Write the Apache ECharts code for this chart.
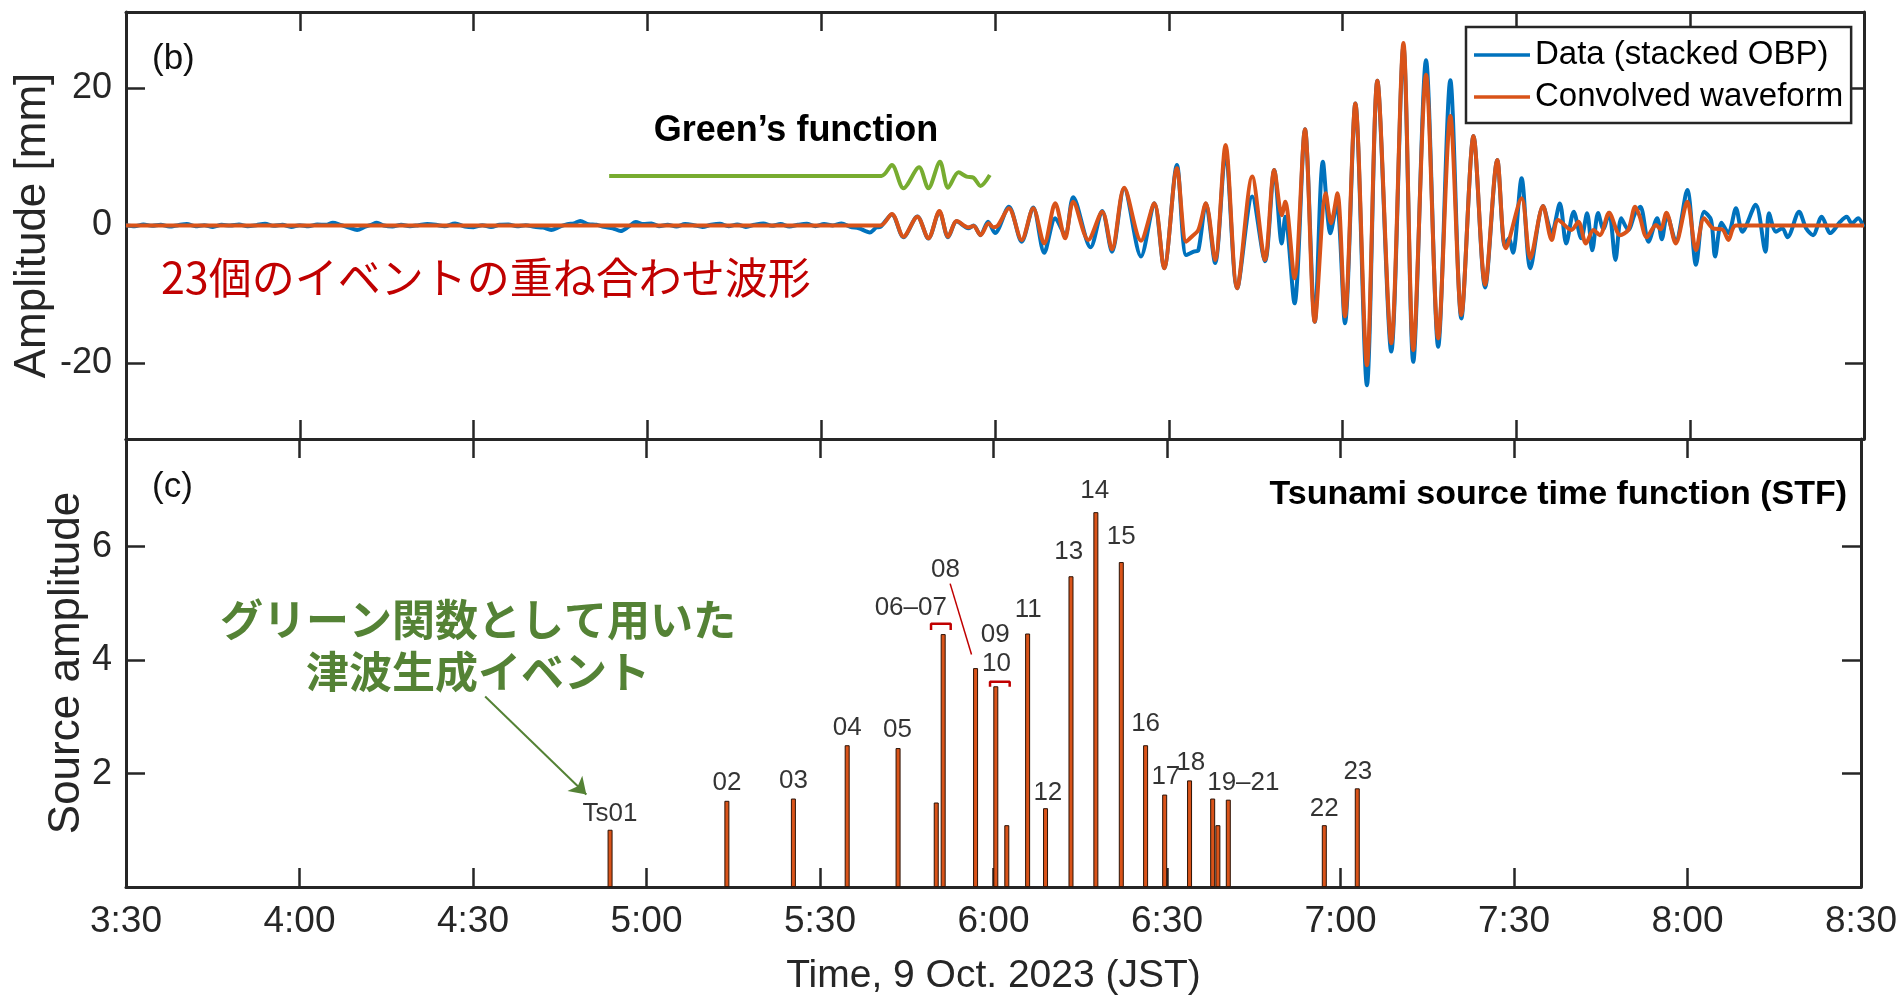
<!DOCTYPE html>
<html><head><meta charset="utf-8">
<script src="https://cdn.jsdelivr.net/npm/echarts@6/dist/echarts.min.js"></script>
<style>html,body{margin:0;padding:0;background:#fff}#c{width:1900px;height:999px}</style>
</head><body><div id="c"></div>
<script>
// ---- axes (minutes of day: 210 = 3:30, 510 = 8:30) ----
const timeMin = 210;
const timeMax = 510;
const timeStep = 30;
const ampMin = -31, ampMax = 31;
const ampTicks = [-20, 0, 20];
const srcMin = 0, srcMax = 7.9;
const srcTicks = [2, 4, 6];

// ---- (c) tsunami source time function ----
const eventNames = ['Ts01','02','03','04','05','06','07','08','09','10','11','12','13','14','15','16','17','18','19','20','21','22','23'];
const eventTimes = [293.7,313.9,325.4,334.7,343.5,350.1,351.3,356.9,360.4,362.3,365.9,369.0,373.4,377.7,382.1,386.3,389.6,393.9,397.9,398.8,400.6,417.2,422.9];
const eventAmps  = [1.01,1.52,1.56,2.50,2.45,1.49,4.46,3.86,3.54,1.09,4.47,1.39,5.48,6.61,5.73,2.50,1.63,1.88,1.56,1.09,1.54,1.09,1.74];

// bar annotation labels
const labelTexts = ['Ts01','02','03','04','05','06–07','08','09','10','11','12','13','14','15','16','17','18','19–21','22','23'];
const labelTimes = [293.7,313.9,325.4,334.7,343.4,345.7,351.7,360.3,360.5,366.0,369.4,373.0,377.5,382.1,386.3,389.8,394.1,403.2,417.2,423.0];
const labelAmps  = [1.29,1.84,1.88,2.80,2.77,4.93,5.60,4.44,3.94,4.88,1.66,5.91,6.99,6.17,2.88,1.95,2.19,1.84,1.37,2.03];

// red brackets and leader line
const bracket0607Times = [349.2,349.2,352.6,352.6];
const bracket0607Amps  = [4.53,4.64,4.64,4.53];
const bracket0910Times = [359.4,359.4,362.8,362.8];
const bracket0910Amps  = [3.53,3.62,3.62,3.53];
const leader08Times = [352.5,356.2];
const leader08Amps  = [5.35,4.10];
// green arrow to Ts01
const arrowTimes = [272.1,289.6];
const arrowAmps  = [3.36,1.63];

// ---- (b) waveforms ----
const obpTimes = [210,211.5,213,214.5,216,217.5,219,220.5,222,223.5,225,226.5,228,229.5,231,232.5,234,235.5,237,238.5,240,241.5,243,244.5,245.7,247,248.5,249.9,251.2,252.3,253.3,254.5,256,257.5,259,260.5,262,263.5,265,266.8,268.5,270,271.5,273,274.5,276,277.5,279,280.5,282,283.4,284.8,286.2,287.3,288.4,289.8,291.2,292.5,294,295.4,296.7,298,299.3,300.7,302,303.5,305,306.5,308,309.5,311,312.5,314,315.5,317,318.5,320,321.5,323,324.5,326,327.5,329,330.5,332,333.5,335,336.5,338.4,339.5,
 340.2,342.2,344.2,346.6,348.5,350.4,351.9,353.4,355.4,356.3,357.5,358.8,360.0,362.4,364.6,366.6,368.5,370.4,372.1,373.5,376.5,378.5,380.2,382.3,385.2,387.5,389.2,391.4,393.0,394.3,395.1,396.4,398.0,399.8,401.8,404.4,406.6,408.2,409.5,410.1,411.7,413.5,415.2,416.6,417.9,419.0,420.4,422.2,424.2,426.0,428.4,430.5,432.2,434.4,436.5,438.6,440.5,442.6,444.6,446.7,448.0,448.7,449.4,450.9,452.4,454.6,456.1,457.5,458.6,459.9,461.2,462.2,463.1,464.1,465.0,466.0,467.1,468.1,469.3,470.5,471.4,472.8,474.3,475.1,476.0,477.5,479.5,481.0,482.4,483.6,484.3,485.4,486.6,487.9,489.0,491.3,493.0,493.6,494.8,495.9,496.8,498.8,500.0,501.2,502.7,504.2,505.9,507.0,507.9,509.0,509.9];
const obpValues = [0.05,-0.1,0.15,-0.05,0.1,-0.15,0.05,0.2,-0.1,0.05,-0.2,0.1,0.0,0.15,-0.1,0.05,0.25,-0.05,0.1,-0.2,0.05,-0.1,0.15,0.1,0.4,0.1,-0.3,-0.65,-0.2,0.1,0.4,0.0,-0.15,0.1,-0.1,0.05,0.2,0.1,-0.1,0.3,-0.15,-0.25,0.05,-0.2,0.1,0.15,-0.1,0.05,-0.2,-0.3,-0.65,-0.2,0.2,0.3,0.65,0.2,0.1,-0.2,-0.4,-0.8,-0.2,0.5,0.2,0.3,-0.1,0.1,-0.15,0.2,0.05,-0.2,0.1,0.25,-0.1,0.15,-0.2,0.1,0.3,-0.05,0.2,-0.15,0.1,0.25,-0.1,0.2,0.0,0.3,-0.2,-0.4,-1.0,-0.3,
 -0.2,1.6,-1.7,1.3,-1.9,2.0,-1.7,0.6,-0.4,0.0,-1.4,0.55,-1.1,2.73,-2.35,2.6,-3.95,1.05,-1.38,4.1,-3.17,2.1,-3.8,5.4,-4.5,3.22,-6.2,8.8,-4.3,-3.8,-3.6,3.2,-5.45,10.7,-9.1,4.2,-5.2,8.06,-2.6,1.28,-11.3,13.97,-13.97,9.26,-1.13,3.2,-14.2,17.7,-23.2,21.0,-18.3,26.0,-19.8,24.0,-17.6,21.1,-13.5,13.0,-9.0,9.5,-3.0,-1.86,-3.95,6.85,-6.2,2.83,-1.1,3.2,-2.6,2.0,-1.86,1.77,-3.6,1.8,-0.5,1.86,-5.0,1.05,-0.65,1.8,2.73,-2.35,1.05,-2.0,1.5,-2.3,5.15,-5.7,2.0,0.8,-4.5,0.4,-1.1,2.5,-0.9,3.0,-3.8,1.77,-0.9,-0.4,-1.7,2.0,-0.4,-1.4,1.28,-1.1,0.55,1.28,0.3,1.05,-0.2];

const convTimes = [210,340.2,342.2,344.2,346.6,348.5,350.4,351.9,353.4,355.4,356.3,357.5,358.9,359.7,360.5,362.4,364.6,366.6,368.5,370.4,372.1,373.5,376.1,378.5,380.2,382.3,385.2,387.5,389.2,391.4,393.0,394.0,395.1,396.4,398.0,399.8,401.8,404.4,406.6,408.2,409.5,410.1,411.7,413.5,415.2,417.1,418.0,419.1,420.4,422.2,424.2,426.0,428.4,430.5,432.2,434.4,436.5,438.6,440.5,442.6,444.6,446.7,448.2,450.9,452.4,454.6,456.1,457.2,459.5,460.7,462.0,463.3,464.4,466.0,467.9,469.3,470.5,471.3,472.5,474.1,474.9,475.9,477.5,479.5,481.0,482.4,483.9,485.6,486.6,487.9,510];
const convValues = [0,0,1.67,-1.63,1.28,-1.86,2.1,-1.63,0.65,-0.27,-0.07,-1.38,0.32,-0.27,0.0,2.5,-2.1,2.5,-2.6,3.22,-1.86,3.46,-2.1,2.0,-3.46,5.49,-2.2,3.22,-6.2,8.3,-2.35,-1.6,-0.65,3.22,-5.0,11.7,-9.1,7.1,-5.0,8.06,1.5,3.46,-7.67,13.97,-13.97,4.67,0.32,4.67,-13.2,17.7,-20.3,21.0,-17.1,26.5,-18.1,21.9,-16.4,15.9,-13.0,13.0,-8.6,9.5,-3.3,3.95,-4.76,2.83,-2.1,0.8,-0.65,0.55,-2.6,-0.65,-1.4,1.86,-1.4,-0.65,2.73,1.28,-1.72,0.07,-0.55,1.86,-2.6,3.46,-3.56,1.05,-0.4,-0.6,-2.1,0,0];

// Green's function (offset trace starting at Ts01)
const greenTimes = [293.4,340.4,342.2,344.2,346.9,348.5,350.5,351.9,353.7,355.1,356.3,357.5,359.1];
const greenValues = [7.2,7.2,8.78,5.40,8.45,5.40,9.26,5.49,7.72,7.09,6.94,5.74,7.33];

// ---- build ----
const zip = (a, b) => a.map((v, i) => [v, b[i]]);
const fmtTime = v => Math.floor(v / 60) + ':' + String(Math.round(v % 60)).padStart(2, '0');
const axisColor = '#262626';
const FONT = "'Liberation Sans', Arial, sans-serif";
const JP = "'Noto Sans CJK JP', sans-serif";

function xAx(grid, pos, labels) {
  const a = {
    type: 'value', gridIndex: grid, position: pos, min: timeMin, max: timeMax, interval: timeStep,
    axisLine: { show: true, onZero: false, lineStyle: { color: axisColor, width: 3 } },
    axisTick: { show: true, inside: true, length: 19, lineStyle: { color: axisColor, width: 2.5 } },
    axisLabel: { show: labels, formatter: fmtTime, fontSize: 37, color: axisColor, fontFamily: FONT, margin: 16 },
    splitLine: { show: false }
  };
  if (labels) {
    a.name = 'Time, 9 Oct. 2023 (JST)';
    a.nameLocation = 'middle';
    a.nameGap = 70;
    a.nameMoveOverlap = false;
    a.nameTextStyle = { fontSize: 39, color: axisColor, fontFamily: FONT };
  }
  return a;
}
function yAx(grid, pos, min, max, ticks, name, gap) {
  const a = {
    type: 'value', gridIndex: grid, position: pos, min: min, max: max,
    axisLine: { show: true, onZero: false, lineStyle: { color: axisColor, width: 3 } },
    axisTick: { show: true, inside: true, length: 19, customValues: ticks, lineStyle: { color: axisColor, width: 2.5 } },
    axisLabel: { show: !!name, customValues: ticks, fontSize: 36, color: axisColor, fontFamily: FONT, margin: 14 },
    splitLine: { show: false }
  };
  if (name) {
    a.name = name; a.nameLocation = 'middle'; a.nameGap = gap; a.nameMoveOverlap = false;
    a.nameTextStyle = { fontSize: 44, color: axisColor, fontFamily: FONT };
  }
  return a;
}

const chart = echarts.init(document.getElementById('c'), null, { renderer: 'canvas' });
const redC = '#C00000';
const option = {
  backgroundColor: '#fff',
  animation: false,
  grid: [
    { left: 126, top: 12, width: 1738, height: 427 },
    { left: 126, top: 439, width: 1738, height: 448 }
  ],
  xAxis: [xAx(0, 'bottom', false), xAx(0, 'top', false), xAx(1, 'bottom', true), xAx(1, 'top', false)],
  yAxis: [
    yAx(0, 'left', ampMin, ampMax, ampTicks, 'Amplitude [mm]', 71),
    yAx(0, 'right', ampMin, ampMax, ampTicks, null),
    yAx(1, 'left', srcMin, srcMax, srcTicks, 'Source amplitude', 37),
    yAx(1, 'right', srcMin, srcMax, srcTicks, null)
  ],
  legend: {
    show: true, left: 1466, top: 27, orient: 'vertical',
    data: [{ name: 'Data (stacked OBP)', icon: 'rect' }, { name: 'Convolved waveform', icon: 'rect' }],
    itemWidth: 56, itemHeight: 3.5, itemGap: 2,
    padding: [8, 8, 6, 8],
    borderColor: axisColor, borderWidth: 2.5, backgroundColor: '#fff',
    textStyle: { fontSize: 33, color: '#000', fontFamily: FONT, lineHeight: 40 }
  },
  series: [
    { name: 'Data (stacked OBP)', type: 'line', xAxisIndex: 0, yAxisIndex: 0, data: zip(obpTimes, obpValues),
      smooth: 0.3, symbol: 'none', silent: true, z: 2, lineStyle: { color: '#0072BD', width: 4 }, itemStyle: { color: '#0072BD' } },
    { name: 'Convolved waveform', type: 'line', xAxisIndex: 0, yAxisIndex: 0, data: zip(convTimes, convValues),
      smooth: 0.3, symbol: 'none', silent: true, z: 3, lineStyle: { color: '#D95319', width: 4 }, itemStyle: { color: '#D95319' } },
    { name: 'green', type: 'line', xAxisIndex: 0, yAxisIndex: 0, data: zip(greenTimes, greenValues),
      smooth: 0.3, symbol: 'none', silent: true, z: 3, lineStyle: { color: '#77AC30', width: 4 } },
    { name: 'STF', type: 'bar', xAxisIndex: 2, yAxisIndex: 2, data: zip(eventTimes, eventAmps), barWidth: 5,
      silent: true, itemStyle: { color: '#D95319', borderColor: '#2b1206', borderWidth: 1 } },
    { name: 'labels', type: 'scatter', xAxisIndex: 2, yAxisIndex: 2, symbolSize: 0, silent: true,
      data: labelTimes.map((t, i) => [t, labelAmps[i], labelTexts[i]]),
      label: { show: true, position: 'inside', formatter: p => p.data[2], fontSize: 26, color: '#000', fontFamily: FONT } },
    { name: 'br1', type: 'line', xAxisIndex: 2, yAxisIndex: 2, data: zip(bracket0607Times, bracket0607Amps), symbol: 'none', silent: true,
      lineStyle: { color: redC, width: 2.5 } },
    { name: 'br2', type: 'line', xAxisIndex: 2, yAxisIndex: 2, data: zip(bracket0910Times, bracket0910Amps), symbol: 'none', silent: true,
      lineStyle: { color: redC, width: 2.5 } },
    { name: 'lead', type: 'line', xAxisIndex: 2, yAxisIndex: 2, data: zip(leader08Times, leader08Amps), symbol: 'none', silent: true,
      lineStyle: { color: redC, width: 1.5 } },
    { name: 'arrow', type: 'lines', coordinateSystem: 'cartesian2d', xAxisIndex: 2, yAxisIndex: 2, silent: true,
      symbol: ['none', 'arrow'], symbolSize: 16,
      data: [{ coords: zip(arrowTimes, arrowAmps) }],
      lineStyle: { color: '#548235', width: 2, opacity: 1, curveness: 0 } }
  ],
  graphic: [
    { type: 'text', x: 152, y: 59, style: { text: '(b)', font: '35px ' + FONT, fill: '#111', verticalAlign: 'middle' } },
    { type: 'text', x: 152, y: 487, style: { text: '(c)', font: '35px ' + FONT, fill: '#111', verticalAlign: 'middle' } },
    { type: 'text', x: 796, y: 131, style: { text: 'Green’s function', font: 'bold 36px ' + FONT, fill: '#000', align: 'center', verticalAlign: 'middle' } },
    { type: 'text', x: 1847, y: 495, style: { text: 'Tsunami source time function (STF)', font: 'bold 34px ' + FONT, fill: '#000', align: 'right', verticalAlign: 'middle' } },
    { type: 'text', x: 161, y: 278, style: { text: '23個のイベントの重ね合わせ波形', font: '43px ' + JP, fill: redC, verticalAlign: 'middle' } },
    { type: 'text', x: 478, y: 620, style: { text: 'グリーン関数として用いた', font: 'bold 43px ' + JP, fill: '#548235', align: 'center', verticalAlign: 'middle' } },
    { type: 'text', x: 478, y: 672, style: { text: '津波生成イベント', font: 'bold 43px ' + JP, fill: '#548235', align: 'center', verticalAlign: 'middle' } }
  ]
};
chart.setOption(option);
</script></body></html>
